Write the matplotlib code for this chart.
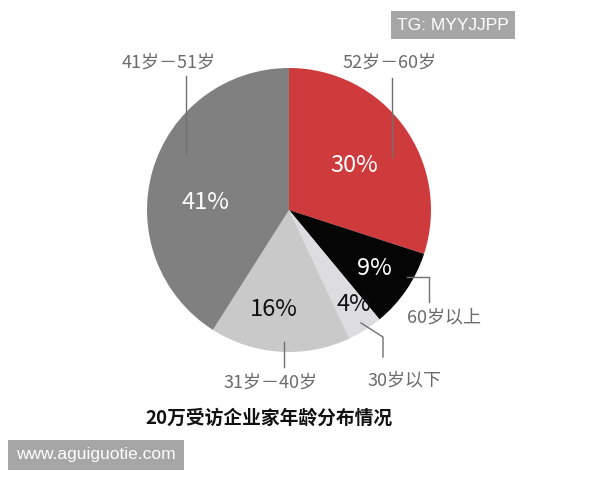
import matplotlib
matplotlib.use('Agg')
import matplotlib.pyplot as plt
import numpy as np

# 데이터
groups = ['52岁－60岁', '60岁以上', '30岁以下', '31岁－40岁', '41岁－51岁']
shares = [30, 9, 4, 16, 41]
colors = ['#cf3a3d', '#050505', '#dddcdf', '#c9c9c9', '#808080']
pct_colors = ['white', 'white', '#111111', '#111111', 'white']
title = '20万受访企业家年龄分布情况'

plt.rcParams['font.family'] = ['Noto Sans CJK SC', 'DejaVu Sans']

fig = plt.figure(figsize=(6, 4.8), dpi=100)
ax = fig.add_axes([0, 0, 1, 1])

# 픽셀 좌표 (위에서부터 y) -> 데이터 좌표
H = 480
def Y(y):
    return H - y

cx, cy, r = 289, Y(210), 142
wedges, _ = ax.pie(shares, colors=colors, startangle=90, counterclock=False,
                   center=(cx, cy), radius=r,
                   wedgeprops={'linewidth': 0})
ax.set_xlim(0, 600)
ax.set_ylim(0, H)
ax.axis('off')

# 퍼센트 라벨: 조각 중심각 기준
pct_dist = [0.56, 0.73, 0.81, 0.71, 0.59]
pct_dang = [-1.7, 0, 2, -4.9, 11.4]
for w, s, d, da, c in zip(wedges, shares, pct_dist, pct_dang, pct_colors):
    th = np.deg2rad((w.theta1 + w.theta2) / 2 + da)
    ax.text(cx + r * d * np.cos(th), cy + r * d * np.sin(th), f'{s}%',
            ha='center', va='center', fontsize=17, color=c)

# 바깥 라벨 + 지시선
label_pos = [(390, 63), (444, 317), (404, 380), (271, 383), (169, 63)]
leaders = [
    [(392, 78), (392, 157)],
    [(407, 277), (429, 277), (429, 302)],
    [(361, 323), (383, 337), (383, 357)],
    [(284, 342), (284, 367)],
    [(186, 76), (186, 155)],
]
for g, (lx, ly), pts in zip(groups, label_pos, leaders):
    ax.text(lx, Y(ly), g, ha='center', va='center', fontsize=13, color='#6b6b6b')
    xs = [p[0] for p in pts]
    ys = [Y(p[1]) for p in pts]
    ax.plot(xs, ys, color='#707070', linewidth=1)

ax.text(269, Y(418), title, ha='center', va='center', fontsize=13.5,
        fontweight='bold', color='#111111')

# 워터마크
ax.text(453, Y(25), 'TG: MYYJJPP', ha='center', va='center', fontsize=12.5,
        color='white', family=['Liberation Sans', 'DejaVu Sans'],
        bbox=dict(boxstyle='square,pad=0.35', facecolor='#a6a6a6', edgecolor='none'))
ax.text(96, Y(455), 'www.aguiguotie.com', ha='center', va='center', fontsize=12.5,
        color='white', family=['Liberation Sans', 'DejaVu Sans'],
        bbox=dict(boxstyle='square,pad=0.45', facecolor='#a6a6a6', edgecolor='none'))

fig.savefig('out.png', dpi=100)
